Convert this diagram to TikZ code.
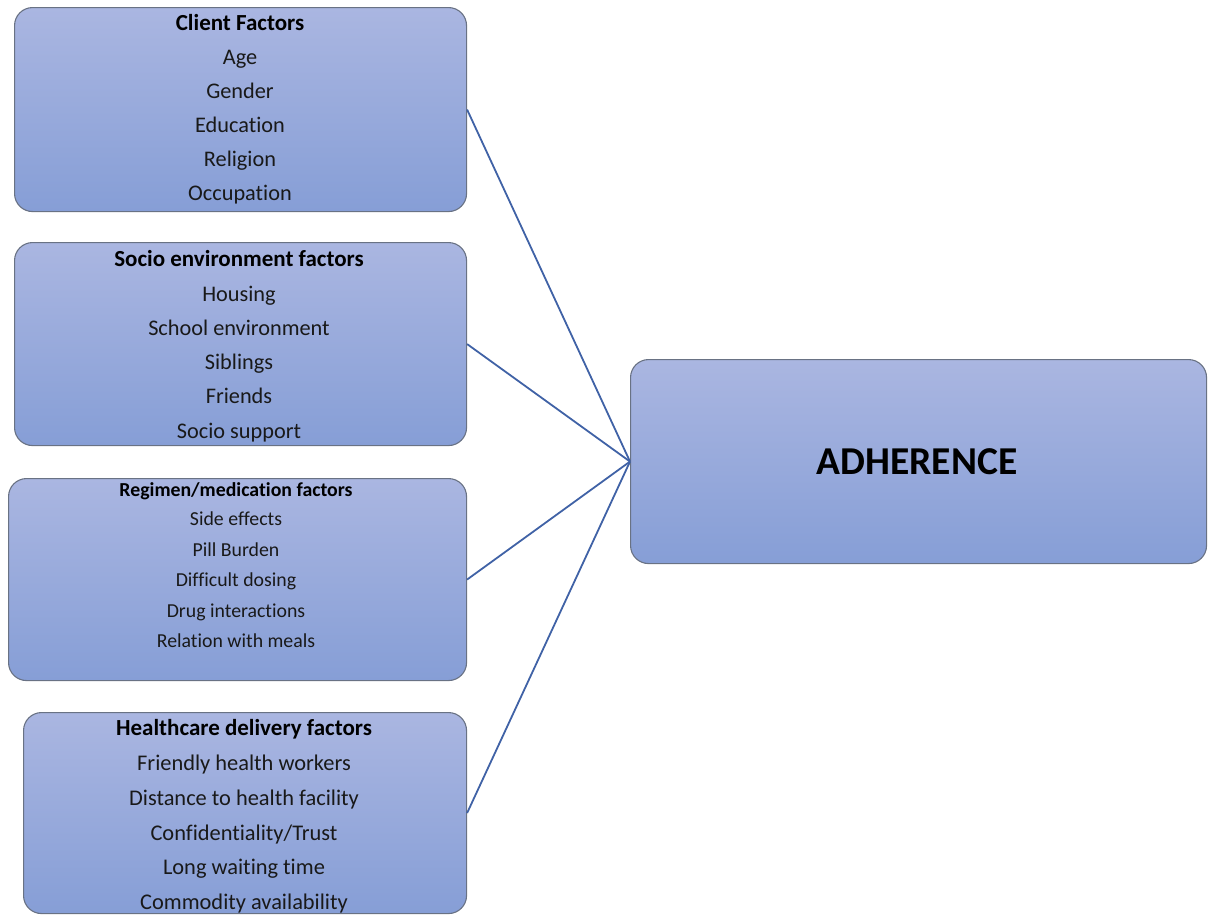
\documentclass[tikz,border=0pt]{standalone}
\usepackage{fontspec}
\setmainfont[Ligatures=NoCommon]{Carlito}
\definecolor{boxtop}{RGB}{170,182,225}
\definecolor{boxbot}{RGB}{134,158,214}
\definecolor{boxborder}{RGB}{105,114,132}
\definecolor{conncol}{RGB}{64,98,166}
\definecolor{txt}{RGB}{25,25,25}
\begin{document}
\begin{tikzpicture}[x=1pt,y=-1pt,
  box/.style={draw=boxborder, line width=1.1pt, rounded corners=18pt, top color=boxtop, bottom color=boxbot, inner sep=0pt, anchor=north west},
  conn/.style={draw=conncol, line width=1.8pt},
  ttl/.style={font=\fontsize{23}{26}\selectfont\bfseries, text=black, anchor=base, inner sep=0pt},
  itm/.style={font=\fontsize{22.3}{26}\selectfont, text=txt, anchor=base, inner sep=0pt},
  ttls/.style={font=\fontsize{19.8}{22}\selectfont\bfseries, text=black, anchor=base, inner sep=0pt},
  itms/.style={font=\fontsize{19.8}{22}\selectfont, text=txt, anchor=base, inner sep=0pt},
  itml/.style={font=\fontsize{22.4}{26}\selectfont, text=txt, anchor=base, inner sep=0pt}]
\useasboundingbox (0,0) rectangle (1213,914);

% boxes
\node[box, minimum width=452pt, minimum height=204pt] (c1) at (14,7) {};
\node[box, minimum width=452pt, minimum height=203pt] (c2) at (14,242) {};
\node[box, minimum width=458pt, minimum height=202pt] (c3) at (8,478) {};
\node[box, minimum width=443pt, minimum height=201pt] (c4) at (23,712) {};
\node[box, minimum width=576pt, minimum height=204pt] (adh) at (630,359) {};

% connectors
\draw[conn] (c1.east) -- (adh.west);
\draw[conn] (c2.east) -- (adh.west);
\draw[conn] (c3.east) -- (adh.west);
\draw[conn] (c4.east) -- (adh.west);

% client factors
\node[ttl] (t1) at (240,30) {Client Factors};
\node[itm] (t1a) at (240,64) {Age};
\node[itm] (t1b) at (240,98) {Gender};
\node[itm] (t1c) at (240,132) {Education};
\node[itm] (t1d) at (240,166) {Religion};
\node[itm] (t1e) at (240,200) {Occupation};

% socio environment
\node[ttl] (t2) at (239,266) {Socio environment factors};
\node[itm] (t2a) at (239,301) {Housing};
\node[itm] (t2b) at (239,335) {School environment};
\node[itm] (t2c) at (239,369) {Siblings};
\node[itm] (t2d) at (239,403) {Friends};
\node[itm] (t2e) at (239,438) {Socio support};

% regimen
\node[ttls] (t3) at (236,496) {Regimen/medication factors};
\node[itms] (t3a) at (236,525) {Side effects};
\node[itms] (t3b) at (236,556) {Pill Burden};
\node[itms] (t3c) at (236,586) {Difficult dosing};
\node[itms] (t3d) at (236,617) {Drug interactions};
\node[itms] (t3e) at (236,647) {Relation with meals};

% healthcare
\node[ttl] (t4) at (244,735) {Healthcare delivery factors};
\node[itml] (t4a) at (244,770) {Friendly health workers};
\node[itml] (t4b) at (244,805) {Distance to health facility};
\node[itml] (t4c) at (244,840) {Confidentiality/Trust};
\node[itml] (t4d) at (244,874) {Long waiting time};
\node[itml] (t4e) at (244,909) {Commodity availability};

% adherence
\node[font=\fontsize{39.5}{44}\selectfont\bfseries, text=black, anchor=base, inner sep=0pt] (t5) at (917,474) {ADHERENCE};
\end{tikzpicture}
\end{document}
